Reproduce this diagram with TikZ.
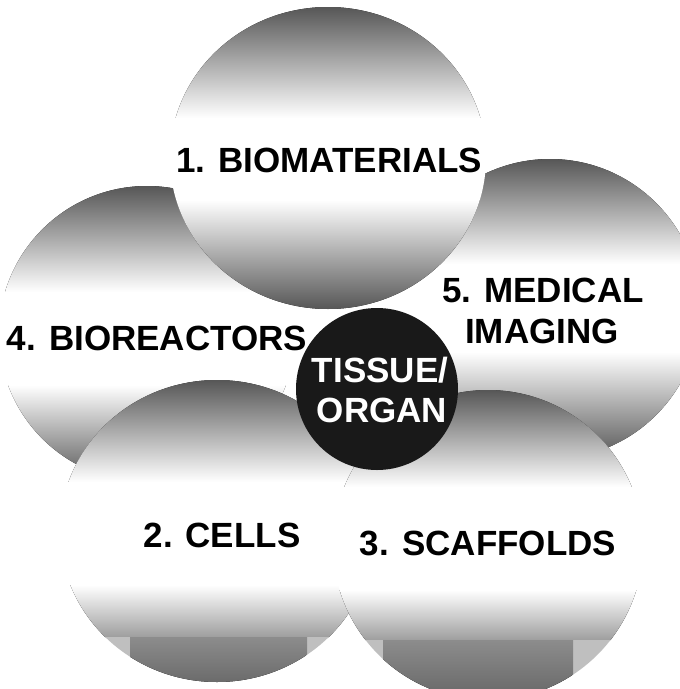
\documentclass[tikz,border=0pt]{standalone}
\usepackage{fontspec}
\setmainfont{Liberation Sans}
\tikzset{
  lbl/.style={font=\bfseries\fontsize{35}{42}\selectfont, text=black, inner sep=0pt, anchor=base},
  tlbl/.style={lbl, text=white},
  domeshade/.style={top color=black!66, middle color=black!44, bottom color=white},
  lowshade/.style={top color=white, middle color=black!40, bottom color=black!66},
  bandgray/.style={fill=black!25},
  bandrect/.style={top color=black!45, bottom color=black!60},
}
\begin{document}
\begin{tikzpicture}[x=1pt,y=-1pt]
\useasboundingbox (0,0) rectangle (680,689);
\fill[white] (0,0) rectangle (680,689);
% 4. Bioreactors
\begin{scope}
  \clip (147,334) circle[radius=148pt];
  \fill[white] (0,0) rectangle (680,689);
  \fill[domeshade] (0,186) rectangle (680,292);
  \fill[lowshade] (0,385) rectangle (680,482);
\end{scope}
% 5. Medical imaging
\begin{scope}
  \clip (550,309) circle[radius=150pt];
  \fill[white] (0,0) rectangle (700,689);
  \fill[domeshade] (0,159) rectangle (700,264);
  \fill[lowshade] (0,352) rectangle (700,459);
\end{scope}
% 2. Cells
\begin{scope}
  \clip (217,531) ellipse[x radius=157pt, y radius=151pt];
  \fill[white] (0,0) rectangle (680,689);
  \fill[domeshade] (0,380) rectangle (680,482);
  \fill[top color=white, bottom color=black!38] (0,585) rectangle (680,637);
  \fill[bandgray] (0,637) rectangle (680,689);
  \fill[bandrect] (130,637) rectangle (307,689);
\end{scope}
% 3. Scaffolds
\begin{scope}
  \clip (488,545) circle[radius=155pt];
  \fill[white] (0,0) rectangle (680,700);
  \fill[domeshade] (0,390) rectangle (680,487);
  \fill[top color=white, bottom color=black!38] (0,590) rectangle (680,640);
  \fill[bandgray] (0,640) rectangle (680,700);
  \fill[bandrect] (383,640) rectangle (573,700);
\end{scope}
% 1. Biomaterials
\begin{scope}
  \clip (328,158) ellipse[x radius=158pt, y radius=151pt];
  \fill[white] (0,0) rectangle (680,689);
  \fill[domeshade] (0,7) rectangle (680,118);
  \fill[lowshade] (0,200) rectangle (680,309);
\end{scope}
% Tissue / organ
\fill[black!90] (377,389) circle[radius=81pt];
% Labels
\node[lbl] (bio) at (329,172) {1. BIOMATERIALS};
\node[lbl] (brx) at (157,350) {4. BIOREACTORS};
\node[lbl] (med1) at (543,302) {5. MEDICAL};
\node[lbl] (med2) at (542,343) {IMAGING};
\node[lbl] (cel) at (222,547) {2. CELLS};
\node[lbl] (scf) at (488,555) {3. SCAFFOLDS};
\node[tlbl] (tis1) at (380,382) {TISSUE/};
\node[tlbl] (tis2) at (382,422) {ORGAN};
\end{tikzpicture}
\end{document}
